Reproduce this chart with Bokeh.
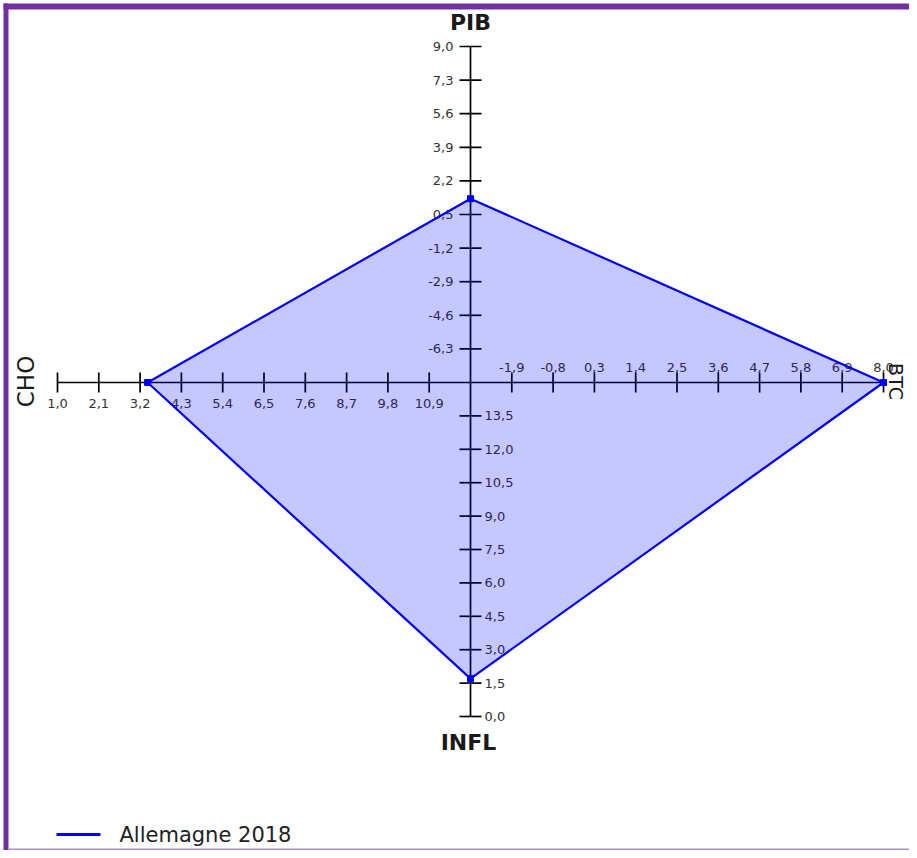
import numpy as np
from bokeh.plotting import figure
from bokeh.models import Range1d
from bokeh.core.properties import value
from bokeh.embed import file_html
from bokeh.resources import INLINE

# ---------------- data ----------------
axis_names = ["PIB", "BTC", "INFL", "CHO"]
axis_center_values = [-8.0, -3.0, 15.0, 12.0]   # value at the centre of the square
axis_outer_values = [9.0, 8.0, 0.0, 1.0]        # value at the outer end of the axis
pib_ticks = ["-6,3", "-4,6", "-2,9", "-1,2", "0,5", "2,2", "3,9", "5,6", "7,3", "9,0"]
btc_ticks = ["-1,9", "-0,8", "0,3", "1,4", "2,5", "3,6", "4,7", "5,8", "6,9", "8,0"]
infl_ticks = ["13,5", "12,0", "10,5", "9,0", "7,5", "6,0", "4,5", "3,0", "1,5", "0,0"]
cho_ticks = ["10,9", "9,8", "8,7", "7,6", "6,5", "5,4", "4,3", "3,2", "2,1", "1,0"]
tick_labels = [pib_ticks, btc_ticks, infl_ticks, cho_ticks]
series_name = "Allemagne 2018"
series_values = [1.3, 8.0, 1.7, 3.4]   # PIB, BTC, INFL, CHO

# ---------------- layout ----------------
CX, CY = 470, -382
DIRS = [(0, 1, 336), (1, 0, 413), (0, -1, 334), (-1, 0, 413)]
FONT = "DejaVu Sans"
W, H = 909, 850

p = figure(width=W, height=H, x_range=Range1d(0, W), y_range=Range1d(-H, 0),
           output_backend="svg", toolbar_location=None, min_border=0)
p.axis.visible = False
p.grid.visible = False
p.outline_line_color = None
p.background_fill_color = "white"
p.border_fill_color = "white"


def pos(i, v):
    r = (v - axis_center_values[i]) / (axis_outer_values[i] - axis_center_values[i])
    dx, dy, L = DIRS[i]
    return CX + dx * r * L, CY + dy * r * L


def tv(s):
    return float(s.replace(",", "."))


# axis lines
for i in range(4):
    ex, ey = pos(i, axis_outer_values[i])
    p.line([CX, ex], [CY, ey], line_color="black", line_width=1.7)

# ticks + labels
LBL = dict(text_font=value(FONT), text_font_size="13px", text_color="#333333")
for i in range(4):
    vals = [tv(s) for s in tick_labels[i]]
    pts = [pos(i, v) for v in vals]
    xs = [q[0] for q in pts]
    ys = [q[1] for q in pts]
    dx, dy, _ = DIRS[i]
    if dx == 0:  # vertical axis: horizontal tick marks
        p.segment(x0=[x - 11 for x in xs], x1=[x + 11 for x in xs], y0=ys, y1=ys,
                  line_color="black", line_width=1.7)
        if i == 0:
            p.text(x=[x - 17 for x in xs], y=ys, text=tick_labels[i], text_align="right",
                   text_baseline="middle", **LBL)
        else:
            p.text(x=[x + 14 for x in xs], y=ys, text=tick_labels[i], text_align="left",
                   text_baseline="middle", **LBL)
    else:  # horizontal axis: vertical tick marks
        p.segment(x0=xs, x1=xs, y0=[y - 10 for y in ys], y1=[y + 10 for y in ys],
                  line_color="black", line_width=1.7)
        if i == 1:
            p.text(x=xs, y=[y + 15 for y in ys], text=tick_labels[i], text_align="center",
                   text_baseline="alphabetic", **LBL)
        else:
            p.text(x=xs, y=[y - 21 for y in ys], text=tick_labels[i], text_align="center",
                   text_baseline="alphabetic", **LBL)

# axis titles
p.text(x=[470], y=[-22], text=[axis_names[0]], text_align="center", text_baseline="middle",
       text_font=value(FONT), text_font_size="22px", text_font_style="bold", text_color="#1a1a1a")
p.text(x=[468], y=[-742], text=[axis_names[2]], text_align="center", text_baseline="middle",
       text_font=value(FONT), text_font_size="22px", text_font_style="bold", text_color="#1a1a1a")
p.text(x=[25], y=[-381], text=[axis_names[3]], angle=np.pi / 2, text_align="center",
       text_baseline="middle", text_font=value(FONT), text_font_size="23px", text_color="#1a1a1a")
p.text(x=[895], y=[-381], text=[axis_names[1]], angle=-np.pi / 2, text_align="center",
       text_baseline="alphabetic", text_font=value(FONT), text_font_size="19px", text_color="#1a1a1a")

# series polygon
verts = [pos(i, series_values[i]) for i in range(4)]
px = [v[0] for v in verts]
py = [v[1] for v in verts]
p.patch(px, py, fill_color="blue", fill_alpha=0.22, line_color="blue", line_width=2.2)
p.scatter(px, py, marker="square", size=6, fill_color="blue", line_color="blue")

# legend
p.line([56, 100], [-834, -834], line_color="blue", line_width=3)
p.text(x=[119], y=[-834], text=[series_name], text_align="left", text_baseline="middle",
       text_font=value(FONT), text_font_size="21px", text_color="#222222")

# frame decoration
p.quad(left=[3], right=[8], bottom=[-H], top=[-3], fill_color="#7030a0", line_color=None)
p.quad(left=[3], right=[W], bottom=[-9], top=[-3], fill_color="#7030a0", line_color=None)
p.line([8, W], [-849, -849], line_color="#a890d0", line_width=2)

open("out.html", "w").write(file_html(p, INLINE))
